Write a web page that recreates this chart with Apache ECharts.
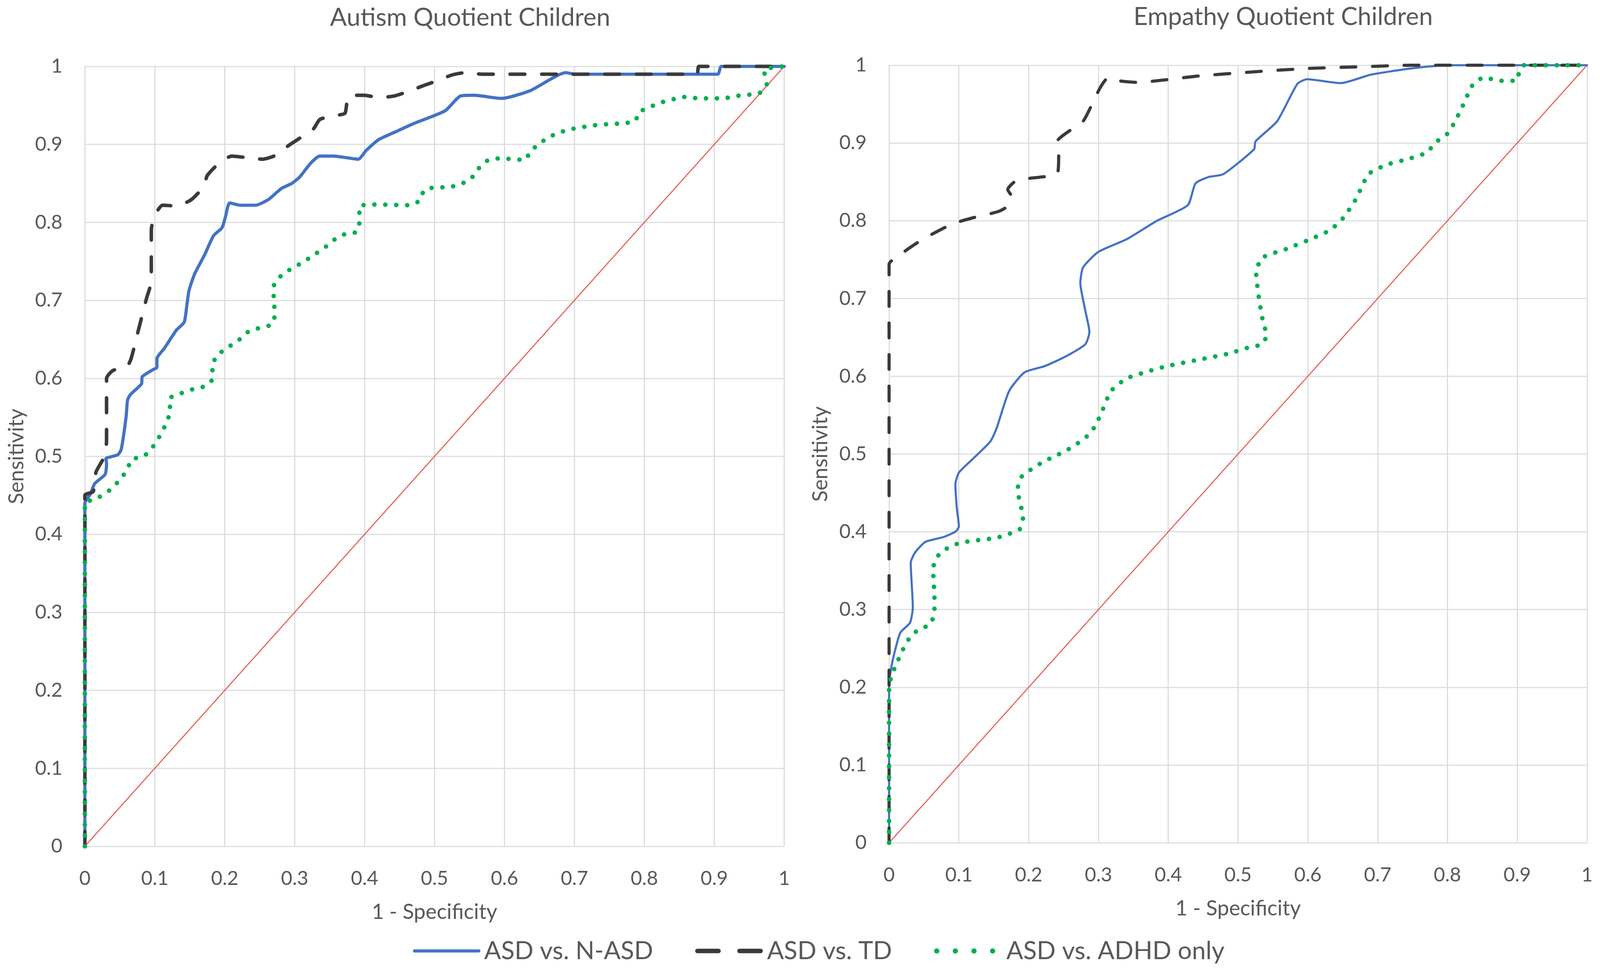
<!DOCTYPE html>
<html>
<head>
<meta charset="utf-8">
<script src="https://cdn.jsdelivr.net/npm/echarts@6/dist/echarts.min.js"></script>
<style>
  html, body { margin: 0; padding: 0; background: #fff; overflow: hidden; }
  #main { width: 100vw; height: 100vh; }
</style>
</head>
<body>
<div id="main"></div>
<script>
// ROC points [1 - specificity, sensitivity]
var aqNasd = [[0,0],[0,0.44],[0.008,0.452],[0.014,0.465],[0.029,0.477],[0.031,0.491],[0.03,0.497],[0.047,0.502],[0.052,0.509],[0.059,0.551],[0.061,0.572],[0.065,0.579],[0.081,0.593],[0.082,0.602],[0.097,0.611],[0.103,0.614],[0.103,0.625],[0.114,0.639],[0.131,0.662],[0.142,0.672],[0.146,0.695],[0.149,0.713],[0.157,0.734],[0.171,0.758],[0.184,0.783],[0.196,0.793],[0.201,0.807],[0.207,0.825],[0.222,0.822],[0.244,0.822],[0.262,0.829],[0.275,0.839],[0.282,0.844],[0.296,0.85],[0.307,0.858],[0.323,0.876],[0.336,0.885],[0.355,0.885],[0.374,0.883],[0.391,0.881],[0.402,0.892],[0.42,0.906],[0.444,0.916],[0.471,0.927],[0.515,0.943],[0.537,0.962],[0.556,0.963],[0.596,0.959],[0.637,0.969],[0.688,0.992],[0.7,0.99],[0.905,0.99],[0.91,1],[1,1]];
var aqTd = [[0,0],[0,0.45],[0.012,0.455],[0.016,0.48],[0.028,0.5],[0.031,0.52],[0.031,0.6],[0.04,0.61],[0.06,0.615],[0.066,0.625],[0.076,0.66],[0.088,0.702],[0.095,0.725],[0.095,0.79],[0.099,0.807],[0.111,0.822],[0.131,0.821],[0.152,0.829],[0.17,0.846],[0.175,0.86],[0.192,0.876],[0.21,0.885],[0.232,0.883],[0.254,0.881],[0.273,0.886],[0.292,0.899],[0.309,0.909],[0.327,0.92],[0.336,0.932],[0.358,0.937],[0.372,0.94],[0.377,0.962],[0.4,0.963],[0.42,0.96],[0.442,0.962],[0.463,0.968],[0.483,0.975],[0.502,0.981],[0.525,0.989],[0.544,0.992],[0.567,0.99],[0.875,0.99],[0.878,1],[1,1]];
var aqAdhd = [[0,0],[0,0.44],[0.015,0.445],[0.036,0.457],[0.052,0.472],[0.061,0.484],[0.067,0.496],[0.084,0.5],[0.097,0.512],[0.107,0.526],[0.116,0.542],[0.122,0.558],[0.121,0.574],[0.138,0.581],[0.154,0.586],[0.172,0.59],[0.183,0.6],[0.182,0.616],[0.19,0.63],[0.205,0.64],[0.22,0.649],[0.234,0.66],[0.251,0.665],[0.267,0.669],[0.272,0.683],[0.27,0.7],[0.27,0.718],[0.281,0.732],[0.296,0.741],[0.312,0.749],[0.327,0.758],[0.342,0.767],[0.357,0.778],[0.372,0.785],[0.389,0.788],[0.393,0.804],[0.392,0.82],[0.408,0.823],[0.463,0.822],[0.479,0.828],[0.485,0.841],[0.502,0.845],[0.519,0.845],[0.537,0.849],[0.552,0.856],[0.563,0.869],[0.577,0.88],[0.594,0.882],[0.629,0.88],[0.637,0.891],[0.65,0.901],[0.665,0.91],[0.681,0.916],[0.698,0.92],[0.733,0.925],[0.769,0.927],[0.787,0.93],[0.792,0.941],[0.808,0.948],[0.825,0.954],[0.842,0.958],[0.86,0.961],[0.877,0.959],[0.913,0.959],[0.931,0.962],[0.965,0.966],[0.975,0.977],[0.971,0.995],[0.987,0.999],[1,1]];

var eqNasd = [[0,0],[0,0.204],[0.005,0.234],[0.016,0.27],[0.03,0.283],[0.034,0.303],[0.031,0.36],[0.037,0.373],[0.052,0.387],[0.077,0.393],[0.095,0.4],[0.1,0.407],[0.097,0.431],[0.095,0.461],[0.1,0.476],[0.118,0.492],[0.145,0.516],[0.154,0.533],[0.172,0.581],[0.194,0.605],[0.223,0.613],[0.252,0.625],[0.281,0.641],[0.287,0.657],[0.281,0.685],[0.274,0.72],[0.278,0.74],[0.3,0.76],[0.34,0.776],[0.384,0.8],[0.428,0.82],[0.439,0.848],[0.457,0.856],[0.479,0.86],[0.523,0.892],[0.525,0.902],[0.556,0.928],[0.585,0.976],[0.599,0.982],[0.647,0.977],[0.691,0.988],[0.749,0.996],[0.8,1],[1,1]];
var eqTd = [[0,0],[0,0.744],[0.015,0.756],[0.048,0.776],[0.091,0.796],[0.121,0.804],[0.157,0.812],[0.172,0.82],[0.175,0.832],[0.17,0.84],[0.183,0.852],[0.216,0.856],[0.241,0.86],[0.243,0.884],[0.241,0.902],[0.259,0.916],[0.278,0.928],[0.292,0.952],[0.303,0.972],[0.314,0.984],[0.329,0.98],[0.355,0.978],[0.384,0.98],[0.442,0.986],[0.53,0.992],[0.603,0.996],[0.676,0.998],[0.749,1],[1,1]];
var eqAdhd = [[0,0],[0,0.2],[0.004,0.216],[0.011,0.231],[0.019,0.247],[0.029,0.263],[0.042,0.274],[0.059,0.281],[0.065,0.298],[0.065,0.316],[0.064,0.334],[0.063,0.352],[0.068,0.367],[0.082,0.378],[0.099,0.385],[0.117,0.388],[0.135,0.39],[0.153,0.392],[0.171,0.397],[0.187,0.403],[0.192,0.419],[0.188,0.436],[0.184,0.454],[0.19,0.471],[0.205,0.481],[0.221,0.49],[0.237,0.497],[0.253,0.504],[0.269,0.513],[0.285,0.524],[0.296,0.537],[0.306,0.557],[0.318,0.581],[0.34,0.597],[0.37,0.606],[0.398,0.613],[0.442,0.621],[0.486,0.629],[0.515,0.637],[0.534,0.641],[0.541,0.653],[0.536,0.669],[0.53,0.7],[0.526,0.732],[0.534,0.752],[0.57,0.764],[0.603,0.776],[0.632,0.788],[0.651,0.804],[0.669,0.828],[0.687,0.86],[0.713,0.872],[0.746,0.88],[0.771,0.888],[0.782,0.9],[0.8,0.912],[0.811,0.928],[0.822,0.948],[0.837,0.976],[0.852,0.984],[0.877,0.98],[0.899,0.98],[0.903,0.992],[0.91,1],[1,1]];

var chance = [[0,0],[1,1]];

var seriesNames = ['ASD vs. N-ASD', 'ASD vs. TD', 'ASD vs. ADHD only'];
var chartTitles = ['Autism Quotient Children', 'Empathy Quotient Children'];

var FONT = 'Lato';
var GRAY = '#595959';
var BLUE = '#4472C4';
var BLACK = '#3A3A3A';
var GREEN = '#00B050';
var RED = '#E8605A';

var chart = echarts.init(document.getElementById('main'), null, { renderer: 'canvas' });

// layout was measured on the 4562 x 2494 picture; scale to the real viewport
var sx = chart.getWidth() / 4562;
var sy = chart.getHeight() / 2494;
function px(v) { return v * sx; }
function py(v) { return v * sy; }

function xAxisFor(idx) {
  return {
    type: 'value',
    gridIndex: idx,
    min: 0,
    max: 1,
    interval: 0.1,
    name: '1 - Specificity',
    nameLocation: 'middle',
    nameGap: py(142),
    nameTextStyle: { color: GRAY, fontFamily: FONT, fontSize: px(60) },
    axisLine: { show: false },
    axisTick: { show: false },
    axisLabel: { color: GRAY, fontFamily: FONT, fontSize: px(56), margin: py(58) },
    splitLine: { show: true, lineStyle: { color: '#D9D9D9', width: px(3) } }
  };
}

function yAxisFor(idx) {
  return {
    type: 'value',
    gridIndex: idx,
    min: 0,
    max: 1,
    interval: 0.1,
    name: 'Sensitivity',
    nameLocation: 'middle',
    nameGap: px(165),
    nameRotate: 90,
    nameTextStyle: { color: GRAY, fontFamily: FONT, fontSize: px(60) },
    axisLine: { show: false },
    axisTick: { show: false },
    axisLabel: { color: GRAY, fontFamily: FONT, fontSize: px(56), margin: px(64) },
    splitLine: { show: true, lineStyle: { color: '#D9D9D9', width: px(3) } }
  };
}

function rocSeries(name, data, idx, color, width, dash) {
  return {
    name: name,
    type: 'line',
    xAxisIndex: idx,
    yAxisIndex: idx,
    data: data,
    symbol: 'none',
    smooth: 0.2,
    clip: false,
    lineStyle: { color: color, width: px(width), type: dash, cap: 'round' },
    itemStyle: { color: color },
    z: 3
  };
}

var dashTd = [px(42), px(48)];
var dotAdhd = [px(0.1), px(31)];

var option = {
  backgroundColor: '#fff',
  animation: false,
  title: [
    {
      text: chartTitles[0], left: px(1335), top: py(8), textAlign: 'center', textVerticalAlign: 'top',
      textStyle: { color: GRAY, fontFamily: FONT, fontSize: px(71), fontWeight: 'normal' }
    },
    {
      text: chartTitles[1], left: px(3653), top: py(6), textAlign: 'center', textVerticalAlign: 'top',
      textStyle: { color: GRAY, fontFamily: FONT, fontSize: px(71), fontWeight: 'normal' }
    }
  ],
  legend: {
    data: [
      { name: seriesNames[0], lineStyle: { width: px(9) } },
      { name: seriesNames[1], lineStyle: { width: px(13), type: [px(60), px(60)] } },
      { name: seriesNames[2], lineStyle: { width: px(15), type: [px(0.1), px(53)] } }
    ],
    left: px(1172),
    top: py(2398),
    itemWidth: px(183),
    itemHeight: px(30),
    itemGap: px(120),
    itemStyle: { opacity: 0 },
    textStyle: { color: GRAY, fontFamily: FONT, fontSize: px(71), padding: [0, 0, 0, px(10)] }
  },
  grid: [
    { left: px(242), width: px(1994), top: py(170), height: py(1997) },
    { left: px(2535), width: px(1990), top: py(167), height: py(1991) }
  ],
  xAxis: [xAxisFor(0), xAxisFor(1)],
  yAxis: [yAxisFor(0), yAxisFor(1)],
  series: [
    rocSeries(seriesNames[0], aqNasd, 0, BLUE, 9, 'solid'),
    rocSeries(seriesNames[1], aqTd, 0, BLACK, 10, dashTd),
    rocSeries(seriesNames[2], aqAdhd, 0, GREEN, 13, dotAdhd),
    { type: 'line', xAxisIndex: 0, yAxisIndex: 0, data: chance, symbol: 'none', clip: false,
      lineStyle: { color: RED, width: px(3) }, z: 2 },

    rocSeries(seriesNames[0], eqNasd, 1, BLUE, 6, 'solid'),
    rocSeries(seriesNames[1], eqTd, 1, BLACK, 9, dashTd),
    rocSeries(seriesNames[2], eqAdhd, 1, GREEN, 13, dotAdhd),
    { type: 'line', xAxisIndex: 1, yAxisIndex: 1, data: chance, symbol: 'none', clip: false,
      lineStyle: { color: RED, width: px(3) }, z: 2 }
  ]
};

chart.setOption(option);
</script>
</body>
</html>
